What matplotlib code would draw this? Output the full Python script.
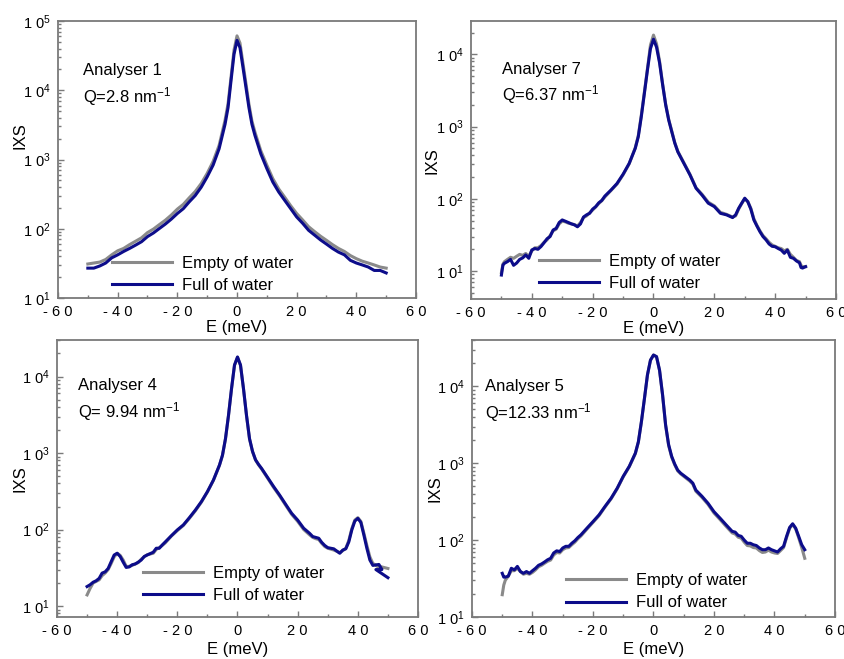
import numpy as np
import matplotlib
matplotlib.use("Agg")
import matplotlib.pyplot as plt
from matplotlib.ticker import FixedLocator, FuncFormatter, LogLocator, NullFormatter

plt.rcParams['font.family'] = ['Liberation Sans', 'DejaVu Sans']
plt.rcParams['mathtext.fontset'] = 'custom'
plt.rcParams['mathtext.rm'] = 'Liberation Sans'
plt.rcParams['mathtext.it'] = 'Liberation Sans:italic'
plt.rcParams['mathtext.bf'] = 'Liberation Sans:bold'

# ---------------- data (E in meV, IXS intensity) ----------------
# Analyser 1, Q = 2.8 nm^-1
E_a1 = [-50, -48, -46, -44, -42, -40, -38, -36, -34, -32, -30, -28, -26, -24, -22, -20, -18, -16, -14, -12, -10, -8, -6,
        -4, -3, -2, -1, 0, 1, 2, 3, 4, 5, 6,
        8, 10, 12, 14, 16, 18, 20, 22, 24, 26, 28, 30, 32, 34, 36, 38, 40, 42, 44, 46, 48, 50]
empty_a1 = [31, 32, 33, 36, 42, 48, 52, 59, 66, 74, 88, 99, 115, 133, 158, 192, 225, 280, 345, 450, 630, 940, 1600,
            3700, 6400, 15500, 38000, 61000, 48000, 24500, 12500, 6300, 3600, 2500,
            1330, 830, 530, 375, 285, 215, 166, 134, 107, 91, 78, 68, 59, 52, 47, 41, 37, 34, 32, 30, 28, 27]
full_a1 = [27, 27, 29, 32, 38, 42, 47, 52, 58, 65, 77, 87, 101, 117, 138, 166, 195, 245, 302, 398, 562, 832, 1430,
           3240, 5620, 13800, 33100, 52500, 41200, 21400, 11000, 5620, 3240, 2240,
           1200, 741, 473, 339, 257, 195, 148, 120, 95, 81, 69, 60, 52, 46, 42, 35, 32, 30, 28, 25, 25, 23]

# Analyser 7, Q = 6.37 nm^-1
E_a7 = [-50, -49.5, -49,
        -48, -47, -46, -45, -44, -43, -42, -41, -40, -39, -38, -37, -36, -35, -34, -33, -32, -31, -30, -29,
        -28, -27, -26, -25, -24, -23, -22, -21, -20, -19, -18, -17, -16,
        -14, -12, -10, -8, -6,
        -5, -4, -3, -2, -1, 0, 1, 2, 3, 4, 5, 6, 7, 8,
        10, 12, 14, 16, 18, 20, 22, 24, 26,
        27, 28, 29, 30, 31, 32, 33, 34, 35, 36, 37, 38, 39, 40, 41, 42, 43, 44, 45, 46, 47, 48,
        48.5, 49, 50]
empty_a7 = [9.5, 12.5, 13.5,
            14.5, 15.5, 15, 16, 17, 16.5, 17.5, 16, 19, 21, 21, 22.5, 25, 27, 31, 36, 38, 45, 49, 48,
            46, 45, 44, 42, 47, 55, 58, 64, 70, 77, 86, 94, 106,
            130, 160, 215, 305, 510,
            750, 1450, 3000, 6300, 13500, 18500, 14000, 8000, 3900, 2050, 1260, 870, 600, 455,
            315, 218, 142, 115, 90, 80, 65, 61, 56,
            58, 72, 86, 100, 92, 74, 53, 43, 36, 31, 28, 25, 23, 22, 21, 20.5, 19, 20, 17, 15.5, 14, 13.5,
            12, 11.5, 11.5]
full_a7 = [8.8, 12.1, 12.8,
           13.5, 14.5, 12, 12.9, 14.5, 15.2, 16.7, 15, 19.6, 20.5, 20, 21.8, 24.6, 28, 30, 37, 39, 47, 51, 49,
           47, 45, 43.6, 41, 45, 56, 60, 63, 72, 78, 88, 95, 109,
           132, 163, 219, 309, 500,
           725, 1380, 2880, 6030, 12000, 16200, 12600, 7600, 3800, 2000, 1230, 850, 590, 447,
           309, 214, 140, 112, 87, 78, 63, 60, 55,
           60, 74, 87, 102, 91, 72, 51, 42, 35, 30, 27, 23.7, 22, 21.7, 20.5, 19.5, 17.6, 19.5, 15.5, 15, 13.8, 13,
           11.2, 11, 11.5]

# Analyser 4, Q = 9.94 nm^-1
E_a4 = [-50, -49, -48, -47, -46, -45, -44, -43, -42, -41, -40, -39, -38, -37, -36, -35, -34, -33, -32, -31, -30,
        -28, -27, -26, -25, -24, -22, -20, -18, -16, -14, -12, -10, -8, -6,
        -5, -4, -3, -2, -1, 0, 1, 2, 3, 4, 5, 6, 7, 8,
        10, 12, 14, 16, 18, 20, 22, 24,
        25, 26, 27, 28, 29, 30, 32, 34, 35, 36, 37, 38, 39, 40, 41, 42, 43, 44, 45, 47, 48, 46, 50]
empty_a4 = [14, 17, 20, 21, 22, 25, 27, 30, 36, 44, 49, 46, 40, 33, 33, 34, 35.5, 37, 41, 44, 47,
            49, 55, 58, 62, 67, 82, 97, 113, 140, 176, 228, 310, 440, 690,
            930, 1520, 3050, 6800, 14000, 17800, 14000, 6800, 3050, 1520, 1040, 810, 700, 620,
            470, 355, 275, 208, 158, 128, 100, 85,
            79, 76, 74, 66, 60, 57, 54, 50, 53, 57, 72, 103, 133, 143, 128, 90, 62, 44, 36, 33, 31, 34, 31]
full_a4 = [18, 19, 20.5, 21.4, 23, 27, 28, 31, 38, 46.5, 49, 44.5, 37.5, 32, 32.5, 34.7, 35.5, 37.5, 40, 44.5, 46.5,
           50.6, 57, 57, 63, 69, 83, 99, 115, 143, 180, 232, 313, 444, 695,
           935, 1540, 3100, 6900, 14100, 18000, 14100, 6900, 3100, 1540, 1050, 815, 710, 630,
           480, 365, 282, 214, 163, 133, 104, 89,
           81, 79, 77, 68, 62, 58, 56, 49, 54, 56, 69, 99, 129, 140, 124, 85, 57, 40, 34, 35, 30, 30, 23.5]

# Analyser 5, Q = 12.33 nm^-1
E_a5 = [-50, -49.5, -49, -48, -47, -46, -45, -44, -43, -42, -41, -40, -39, -38, -37, -36, -35, -34, -33, -32, -31,
        -30, -29, -28, -27, -26, -25, -24, -22, -20, -18, -16, -14, -12, -10, -8, -6,
        -5, -4, -3, -2, -1, 0, 1, 2, 3, 4, 5, 6, 7, 8, 9, 10, 12, 13, 14, 16, 18, 20, 22, 24, 26,
        27, 28, 29, 30, 31, 32, 33, 34, 35, 36, 37, 38, 39, 40, 41, 42, 43, 44, 45, 46, 47, 48, 49, 50]
empty_a5 = [19.5, 26, 30, 34, 40, 40, 43, 39, 36, 37, 36, 38, 41, 45, 47, 50, 53, 55, 64, 69, 68,
            75, 79, 80, 87, 94, 104, 113, 139, 170, 208, 270, 345, 465, 665, 900, 1330,
            1880, 3420, 6850, 14000, 21800, 25500, 24200, 16000, 7650, 3100, 1700, 1200, 955, 795, 725, 675,
            585, 535, 432, 360, 292, 225, 185, 151, 124,
            120, 109, 106, 94, 85, 84, 80, 79, 73, 69, 70, 74, 70, 68, 67, 73, 80, 108, 142, 160, 140, 107, 80, 58]
full_a5 = [37, 33, 33, 34, 43, 41, 45.5, 39, 37, 39, 37, 40, 43, 47, 49, 52, 55.5, 58, 68, 72.5, 71,
           79, 83, 83, 91, 98, 108, 117, 143, 174, 213, 275, 351, 473, 676, 912, 1350,
           1900, 3470, 6920, 14100, 21900, 25500, 24300, 16200, 7760, 3160, 1740, 1230, 977, 813, 741, 692,
           603, 550, 447, 372, 302, 234, 193, 158, 130,
           127, 115, 112, 100, 91, 91, 87, 85, 79, 75, 75, 79, 75, 72.5, 70, 77, 83, 112, 146, 163, 143, 112, 87, 75]

titles = ["Analyser 1", "Analyser 7", "Analyser 4", "Analyser 5"]
q_labels = ["Q=2.8 nm$^{\\mathregular{-1}}$", "Q=6.37 nm$^{\\mathregular{-1}}$",
            "Q= 9.94 nm$^{\\mathregular{-1}}$", "Q=12.33 nm$^{\\mathregular{-1}}$"]
series_labels = ["Empty of water", "Full of water"]
x_ticks = [-60, -40, -20, 0, 20, 40, 60]
x_ticklabels = ["- 6 0", "- 4 0", "- 2 0", "0", "2 0", "4 0", "6 0"]

# ---------------- layout / style ----------------
W, H = 845, 659
GRAY = "#8a8a8a"
BLUE = "#0c0c8a"
FRAME = "#7a7a7a"

def px_rect(l, r, t, b):
    return [l / W, (H - b) / H, (r - l) / W, (b - t) / H]

panels = [
    dict(E=E_a1, empty=empty_a1, full=full_a1, rect=px_rect(58, 416, 21, 298), ylim=(10, 1e5),
         txt=(0.07, 0.823, 0.729), leg=(0.151, 0.018), ylab=(-0.106, 0.585), xlab=-0.108),
    dict(E=E_a7, empty=empty_a7, full=full_a7, rect=px_rect(471, 836, 21, 299), ylim=(4.1, 2.9e4),
         txt=(0.084, 0.827, 0.734), leg=(0.186, 0.029), ylab=(-0.107, 0.496), xlab=-0.105),
    dict(E=E_a4, empty=empty_a4, full=full_a4, rect=px_rect(57, 418, 340, 617), ylim=(7.2, 3e4),
         txt=(0.057, 0.835, 0.741), leg=(0.238, 0.050), ylab=(-0.102, 0.498), xlab=-0.119),
    dict(E=E_a5, empty=empty_a5, full=full_a5, rect=px_rect(472, 835, 340, 617), ylim=(10, 4e4),
         txt=(0.036, 0.831, 0.737), leg=(0.258, 0.024), ylab=(-0.102, 0.462), xlab=-0.119),
]

fig = plt.figure(figsize=(W / 100, H / 100), dpi=100)

ylab_fmt = FuncFormatter(lambda v, p: "1 0$^{\\mathregular{%d}}$" % int(round(np.log10(v))))

for i, pnl in enumerate(panels):
    ax = fig.add_axes(pnl["rect"])
    ax.plot(pnl["E"], pnl["empty"], color=GRAY, lw=2.2, label=series_labels[0], solid_joinstyle='round')
    ax.plot(pnl["E"], pnl["full"], color=BLUE, lw=2.2, label=series_labels[1], solid_joinstyle='round')
    ax.set_yscale("log")
    ax.set_xlim(-60, 60)
    ax.set_ylim(*pnl["ylim"])
    ax.xaxis.set_major_locator(FixedLocator(x_ticks))
    ax.set_xticklabels(x_ticklabels)
    ax.xaxis.set_minor_locator(FixedLocator([-50, -30, -10, 10, 30, 50]))
    ax.yaxis.set_major_locator(LogLocator(base=10, numticks=10))
    ax.yaxis.set_minor_locator(LogLocator(base=10, subs=np.arange(2, 10), numticks=20))
    ax.yaxis.set_major_formatter(ylab_fmt)
    ax.yaxis.set_minor_formatter(NullFormatter())
    ax.tick_params(which="both", direction="in", color=FRAME, labelsize=10.5, width=1)
    ax.tick_params(which="major", length=4, pad=5)
    ax.tick_params(which="minor", length=2.5)
    for s in ax.spines.values():
        s.set_color(FRAME)
        s.set_linewidth(1.3)

    ax.set_xlabel("E (meV)", fontsize=12, va="center")
    ax.xaxis.set_label_coords(0.5, pnl["xlab"])
    ax.set_ylabel("IXS", fontsize=12, va="center")
    ax.yaxis.set_label_coords(*pnl["ylab"])

    tx, ty1, ty2 = pnl["txt"]
    ax.text(tx, ty1, titles[i], transform=ax.transAxes, fontsize=12, ha="left", va="center")
    ax.text(tx, ty2, q_labels[i], transform=ax.transAxes, fontsize=12, ha="left", va="center")

    ax.legend(loc="lower left", bbox_to_anchor=pnl["leg"], frameon=False, fontsize=12,
              handlelength=3.6, handletextpad=0.6, labelspacing=0.44, borderpad=0, borderaxespad=0)

fig.savefig("out.png", dpi=100)
